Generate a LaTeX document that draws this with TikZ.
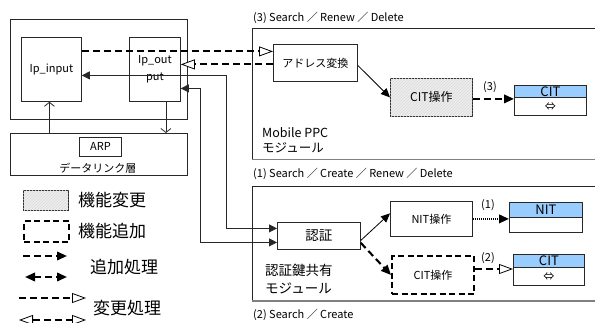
\documentclass[tikz,border=0pt]{standalone}
\usepackage{fontspec}
\setmainfont{Noto Sans CJK JP}
\usetikzlibrary{arrows.meta,patterns,calc}
\definecolor{hdr}{RGB}{153,204,255}
\definecolor{edge}{RGB}{40,40,40}
\tikzset{
  fs/.style={font=\fontsize{#1}{#1}\selectfont},
  box/.style={draw=edge,line width=0.8pt,anchor=north west,inner sep=0pt,fill=white},
  hatched/.style={fill=black!7,postaction={pattern=north east lines,pattern color=black!14}},
  dashbox/.style={draw=black,line width=2pt,dash pattern=on 6pt off 3.5pt},
  txt/.style={inner sep=0pt,anchor=west},
  fhead/.tip={Triangle[length=10pt,width=8.5pt]},
  ohead/.tip={Triangle[open,length=14pt,width=10pt,line width=0.8pt,fill=white]},
  fillhead/.style={-fhead},
  openhead/.style={-ohead},
  solidarrow/.style={line width=0.8pt,draw=edge,{Triangle[length=8pt,width=8pt]}-{Triangle[length=8pt,width=8pt]}},
  addline/.style={draw=black,line width=2.1pt,dash pattern=on 7pt off 4pt},
  thinto/.style={line width=0.8pt,draw=edge,-{Straight Barb[length=4pt,width=10pt]}},
  frametop/.style={draw=black!85,line width=0.9pt},
  framebot/.style={draw=black!50,line width=1.3pt},
}
\begin{document}
\begin{tikzpicture}[x=1pt,y=-1pt,fs=11]
\useasboundingbox (0,0) rectangle (595,322);
% module frames
\draw[frametop] (595,28) -- (252,28) -- (252,159);
\draw[framebot] (252,159.5) -- (595,159.5);
\draw[frametop] (595,186) -- (252,186) -- (252,301);
\draw[framebot] (252,301) -- (595,301);
\node[txt] (t3) at (253,18) {(3) Search ／ Renew ／ Delete};
\node[txt] (t1) at (253,174) {(1) Search ／ Create ／ Renew ／ Delete};
\node[txt] (t2) at (253,315) {(2) Search ／ Create};
\node[inner sep=0pt,anchor=north west,align=left,fs=12.5] (ppc) at (262,127) {Mobile PPC\\[3pt]モジュール};
\node[inner sep=0pt,anchor=north west,align=left,fs=13.5] (akey) at (265,264) {認証鍵共有\\[4pt]モジュール};
% host side
\node[box,minimum width=177pt,minimum height=100pt] (outer) at (10,19) {};
\node[box,minimum width=60pt,minimum height=64pt] (ipin) at (21,37) {Ip\_input};
\node[box,minimum width=51pt,minimum height=64pt,align=center] (ipout) at (129,37) {Ip\_out\\[6pt]put};
\node[box,minimum width=177pt,minimum height=42pt] (dl) at (10,133) {};
\node[box,minimum width=42pt,minimum height=19pt] (arp) at (79,137) {ARP};
\node[inner sep=0pt,fs=11] (dltxt) at (98,168) {データリンク層};
% upper module
\node[box,minimum width=84pt,minimum height=37pt] (addr) at (273,44) {アドレス変換};
\node[box,hatched,minimum width=82pt,minimum height=38pt,fs=12] (cop1) at (390,78) {CIT操作};
\node[box,fill=hdr,minimum width=72pt,minimum height=12pt,fs=13] (cit1h) at (514,85) {CIT};
\node[box,minimum width=72pt,minimum height=18pt] (cit1b) at (514,97) {⇔};
% lower module
\node[box,minimum width=83pt,minimum height=27pt,fs=13.5] (auth) at (277,222) {認証};
\node[box,minimum width=82pt,minimum height=35pt] (nop) at (390,201) {NIT操作};
\node[box,dashbox,minimum width=82pt,minimum height=38pt] (cop2) at (391,255) {CIT操作};
\node[box,fill=hdr,minimum width=73pt,minimum height=15pt,fs=13] (nith) at (509,202) {NIT};
\node[box,minimum width=73pt,minimum height=15pt] (nitb) at (509,217) {};
\node[box,fill=hdr,minimum width=71pt,minimum height=13pt,fs=13] (cit2h) at (513,254) {CIT};
\node[box,minimum width=71pt,minimum height=18pt] (cit2b) at (513,267) {⇔};
% connectors host
\draw[thinto] ([xshift=11pt]ipout.south) -- ([xshift=11pt]ipout.south |- dl.north);
\draw[thinto] ([xshift=-2pt]ipin.south |- dl.north) -- ([xshift=-2pt]ipin.south);
\draw[addline,openhead] ([yshift=18pt]ipin.east) -- ([yshift=18pt]ipin.east -| addr.west);
\draw[addline,openhead] ([yshift=-1.5pt]addr.west) -- ([yshift=-1.5pt]addr.west -| ipout.east);
\draw[solidarrow] ([yshift=-6pt]ipin.east) -| ([xshift=-51pt,yshift=7.5pt]auth.west) -- ([yshift=7.5pt]auth.west);
\draw[solidarrow] ([yshift=-19pt]ipout.east) -| ([xshift=-77pt,yshift=-6.5pt]auth.west) -- ([yshift=-6.5pt]auth.west);
% upper module connectors
\draw[line width=0.8pt,-{Triangle[length=9pt,width=8pt]}] ([yshift=-2.5pt]addr.east) -- (cop1.west);
\draw[addline,fillhead] ([yshift=-1.5pt]cop1.east) -- ([yshift=-1.5pt]cop1.east -| cit1b.west);
\node[inner sep=0pt] (l3) at (490,87) {(3)};
% lower module connectors
\draw[line width=0.8pt,-{Triangle[length=9pt,width=8pt]}] ([yshift=-4.5pt]auth.east) -- ([yshift=5.5pt]nop.west);
\draw[addline,fillhead] ([yshift=-7pt]auth.east) -- (cop2.west);
\draw[line width=2.2pt,dash pattern=on 1.2pt off 0.8pt,fillhead] (nop.east) -- (nop.east -| nitb.west);
\node[inner sep=0pt] (l1) at (488,205) {(1)};
\draw[addline,openhead] ([yshift=6pt]cop2.east) -- ([yshift=6pt]cop2.east -| cit2b.west);
\node[inner sep=0pt] (l2) at (488,258) {(2)};
% legend
\node[box,hatched,minimum width=45pt,minimum height=20pt] (lg1) at (23,190) {};
\node[box,dashbox,fill=none,minimum width=45pt,minimum height=21pt] (lg2) at (23,220) {};
\node[txt,fs=17] (lt1) at (78,200) {機能変更};
\node[txt,fs=17] (lt2) at (78,231) {機能追加};
\coordinate (a1s) at (23,256); \coordinate (a1e) at (67,256);
\coordinate (a2s) at (25,277); \coordinate (a2e) at (67,277);
\coordinate (a3s) at (19,298); \coordinate (a3e) at (86,298);
\coordinate (a4s) at (19,320); \coordinate (a4e) at (86,320);
\draw[addline,fillhead] (a1s) -- (a1e);
\draw[addline,fhead-fhead] (a2s) -- (a2e);
\draw[addline,openhead] (a3s) -- (a3e);
\draw[addline,ohead-ohead] (a4s) -- (a4e);
\node[txt,fs=17] (lt3) at (90,267) {追加処理};
\node[txt,fs=17] (lt4) at (93,308) {変更処理};
\end{tikzpicture}
\end{document}
